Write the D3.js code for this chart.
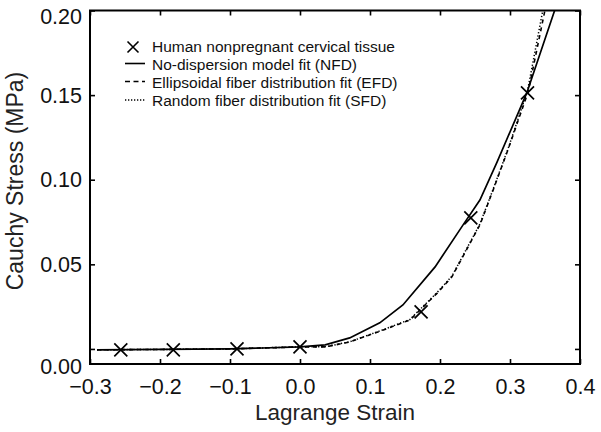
<!DOCTYPE html>
<html>
<head>
<meta charset="utf-8">
<script src="https://cdn.jsdelivr.net/npm/d3@7"></script>
<style>
  html, body { margin: 0; padding: 0; background: #fff; }
  svg { display: block; font-family: Arial, "Liberation Sans", Helvetica, sans-serif; }
</style>
</head>
<body>
<svg id="chart" width="601" height="432"></svg>
<script>
// ---- data ----
const strainData = [-0.256, -0.181, -0.09, 0.0, 0.173, 0.244, 0.325];
const stressData = [-0.0005, -0.0005, 0.0, 0.0012, 0.0219, 0.0774, 0.1513];

const nfdStrain = [-0.29, -0.2, -0.1, 0.0, 0.036, 0.071, 0.114, 0.147, 0.193, 0.233, 0.257, 0.281, 0.324, 0.364];
const nfdStress = [-0.0005, -0.0003, 0.0, 0.0012, 0.0024, 0.0065, 0.0154, 0.026, 0.0485, 0.0733, 0.088, 0.110, 0.1513, 0.2003];

const efdStrain = [-0.29, -0.2, -0.1, 0.0, 0.036, 0.071, 0.119, 0.157, 0.196, 0.217, 0.257, 0.276, 0.297, 0.326, 0.35];
const efdStress = [-0.0005, -0.0003, 0.0, 0.0012, 0.0012, 0.0041, 0.0112, 0.0171, 0.033, 0.0426, 0.0733, 0.094, 0.1176, 0.152, 0.2003];

const sfdStrain = [-0.29, -0.2, -0.1, 0.0, 0.036, 0.071, 0.119, 0.157, 0.196, 0.217, 0.257, 0.276, 0.297, 0.325, 0.347];
const sfdStress = [-0.0005, -0.0003, 0.0, 0.0013, 0.0013, 0.0042, 0.0114, 0.0174, 0.0334, 0.043, 0.0738, 0.0945, 0.118, 0.1525, 0.2003];

const xTicks = [-0.3, -0.2, -0.1, 0.0, 0.1, 0.2, 0.3, 0.4];
const yTicks = [0.0, 0.05, 0.10, 0.15, 0.20];

const legendLabels = [
  "Human nonpregnant cervical tissue",
  "No-dispersion model fit (NFD)",
  "Ellipsoidal fiber distribution fit (EFD)",
  "Random fiber distribution fit (SFD)"
];
const xTitle = "Lagrange Strain";
const yTitle = "Cauchy Stress (MPa)";

// ---- layout ----
const L = 90, R = 580, T = 10.5, B = 364;
const svg = d3.select("#chart");

const x = d3.scaleLinear().domain([-0.3, 0.4]).range([L, R]);
const y = d3.scaleLinear().domain([-0.0089, 0.20]).range([B, T]);

svg.append("defs").append("clipPath").attr("id", "plotclip")
  .append("rect").attr("x", L).attr("y", T).attr("width", R - L).attr("height", B - T);

// axes
const fmtX = d3.format(".1f");
const fmtY = d3.format(".2f");

const gx = svg.append("g").attr("transform", `translate(0,${B})`)
  .call(d3.axisBottom(x).tickValues(xTicks).tickFormat(fmtX).tickSizeInner(-5).tickSizeOuter(0).tickPadding(14.5));
const gxTop = svg.append("g").attr("transform", `translate(0,${T})`)
  .call(d3.axisTop(x).tickValues(xTicks).tickFormat("").tickSizeInner(-5).tickSizeOuter(0));
const gy = svg.append("g").attr("transform", `translate(${L},0)`)
  .call(d3.axisLeft(y).tickValues(yTicks).tickFormat(fmtY).tickSizeInner(-5).tickSizeOuter(0).tickPadding(8));
const gyR = svg.append("g").attr("transform", `translate(${R},0)`)
  .call(d3.axisRight(y).tickValues(yTicks).tickFormat("").tickSizeInner(-5).tickSizeOuter(0));

[gx, gxTop, gy, gyR].forEach(g => {
  g.select(".domain").remove();
  g.selectAll(".tick line").attr("stroke", "#000").attr("stroke-width", 1.6);
  g.selectAll(".tick text").attr("fill", "#111").attr("font-size", 21.5)
    .attr("font-family", "Arial, 'Liberation Sans', Helvetica, sans-serif");
});
// edge labels nudged inside the frame as in the reference
gy.selectAll(".tick").filter(d => d === 0.20).select("text").attr("dy", "0.62em");
gy.selectAll(".tick").filter(d => d === 0).select("text")
  .attr("y", y(-0.0089) - y(0) + 3).attr("dy", "0.32em");

// frame
svg.append("rect").attr("x", L).attr("y", T).attr("width", R - L).attr("height", B - T)
  .attr("fill", "none").attr("stroke", "#000").attr("stroke-width", 2);

// titles
svg.append("text").attr("x", (L + R) / 2).attr("y", 419.5).attr("text-anchor", "middle")
  .attr("font-size", 22.5).attr("fill", "#222").text(xTitle);
svg.append("text").attr("transform", "translate(23,181) rotate(-90)").attr("text-anchor", "middle")
  .attr("font-size", 23).attr("fill", "#222").text(yTitle);

// curves
const line = d3.line().x(d => x(d[0])).y(d => y(d[1]));
const plot = svg.append("g").attr("clip-path", "url(#plotclip)");
const zip = (a, b) => a.map((v, i) => [v, b[i]]);

plot.append("path").datum(zip(efdStrain, efdStress)).attr("d", line)
  .attr("fill", "none").attr("stroke", "#000").attr("stroke-width", 1.6).attr("stroke-dasharray", "4,4");
plot.append("path").datum(zip(sfdStrain, sfdStress)).attr("d", line)
  .attr("fill", "none").attr("stroke", "#000").attr("stroke-width", 1.5).attr("stroke-dasharray", "1.3,2");
plot.append("path").datum(zip(nfdStrain, nfdStress)).attr("d", line)
  .attr("fill", "none").attr("stroke", "#000").attr("stroke-width", 1.7);

// markers
const xMark = (s) => `M${-s},${-s}L${s},${s}M${-s},${s}L${s},${-s}`;
svg.append("g").selectAll("path").data(zip(strainData, stressData)).join("path")
  .attr("transform", d => `translate(${x(d[0])},${y(d[1])})`)
  .attr("d", xMark(6.5)).attr("stroke", "#000").attr("stroke-width", 1.7).attr("fill", "none");

// legend
const lg = svg.append("g");
const rowY = [47, 64.5, 82.5, 101];
const textX = 152;
lg.append("path").attr("transform", `translate(133,${rowY[0]})`).attr("d", xMark(5.5))
  .attr("stroke", "#000").attr("stroke-width", 1.6).attr("fill", "none");
const styles = [null, "none", "5,3.5", "1.3,1.7"];
for (let i = 1; i < 4; i++) {
  lg.append("line").attr("x1", 125).attr("x2", 145).attr("y1", rowY[i] - 1).attr("y2", rowY[i] - 1)
    .attr("stroke", "#000").attr("stroke-width", i === 3 ? 1.3 : 1.6)
    .attr("stroke-dasharray", styles[i]);
}
lg.selectAll("text").data(legendLabels).join("text")
  .attr("x", textX).attr("y", (d, i) => rowY[i]).attr("dy", "0.34em")
  .attr("font-size", 15.5).attr("fill", "#111").text(d => d);
</script>
</body>
</html>
